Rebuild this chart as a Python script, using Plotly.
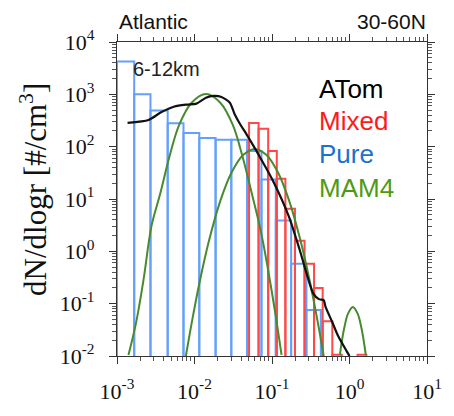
import plotly.graph_objects as go

# ---------------- data ----------------
# Pure (blue) size bins: edges in radius [um], values dN/dlogr [#/cm3]
pure_edges = [0.001, 0.001667, 0.002704, 0.004508, 0.007211, 0.01153, 0.01871,
              0.02985, 0.04775, 0.07311, 0.1119, 0.1766, 0.278, 0.4266]
pure_vals = [4250, 1000, 490, 280, 182, 146, 136, 136, 83, 23.5, 3.9, 0.58, 0.076]

# Mixed (red) size bins
mixed_left = [0.0506, 0.0671, 0.0893, 0.1153, 0.1489, 0.1977, 0.263, 0.349, 0.4508, 0.600, 1.27]
mixed_right = [0.0671, 0.0893, 0.1153, 0.1489, 0.1977, 0.263, 0.349, 0.4508, 0.600, 0.795, 1.65]
mixed_vals = [284, 220, 83, 24.3, 6.5, 1.6, 0.58, 0.20, 0.046, 0.0106, 0.0106]

# ATom measured distribution (black)
atom_r = [0.001368, 0.002553, 0.00370, 0.00551, 0.00796, 0.0106, 0.01406, 0.01766,
          0.0222, 0.0286, 0.0330, 0.0380, 0.0478, 0.0671, 0.1028, 0.1667, 0.228,
          0.340, 0.403, 0.4645, 0.491, 0.600, 0.711, 0.918, 1.0]
atom_v = [284, 323, 453, 585, 637, 664, 857, 931, 893, 692, 417, 284, 164, 70.3,
          22.4, 4.47, 1.06, 0.157, 0.122, 0.117, 0.0867, 0.0441, 0.0243, 0.0124, 0.01]

# MAM4 modes (green)
mam_aitken_r = [0.001406, 0.001766, 0.002218, 0.00278, 0.00360, 0.00478, 0.00634,
                0.00918, 0.01406, 0.02153, 0.0312, 0.0414, 0.0551, 0.0711, 0.0893,
                0.1119, 0.1327]
mam_aitken_v = [0.0105, 0.044, 0.31, 3.0, 12.4, 67, 261, 692, 1014, 692, 261, 67,
                12.4, 2.6, 0.43, 0.057, 0.0105]

mam_accum_r = [0.00774, 0.00918, 0.01153, 0.01531, 0.02153, 0.0303, 0.0427, 0.0600,
               0.0843, 0.1186, 0.1667, 0.2344, 0.312, 0.392, 0.4645]
mam_accum_v = [0.010, 0.042, 0.24, 1.55, 9.2, 32.7, 70, 90.6, 70, 32.7, 9.2, 1.55,
               0.24, 0.042, 0.010]

mam_coarse_r = [0.753, 0.785, 0.855, 0.957, 1.104, 1.274, 1.426, 1.552, 1.622]
mam_coarse_v = [0.0105, 0.0166, 0.0342, 0.0646, 0.0867, 0.0646, 0.0342, 0.0166, 0.0105]

x_tick_vals = [0.001, 0.01, 0.1, 1, 10]
x_tick_text = ["10<sup>-3</sup>", "10<sup>-2</sup>", "10<sup>-1</sup>", "10<sup>0</sup>", "10<sup>1</sup>"]
y_tick_vals = [0.01, 0.1, 1, 10, 100, 1000, 10000]
y_tick_text = ["10<sup>-2</sup>", "10<sup>-1</sup>", "10<sup>0</sup>", "10<sup>1</sup>",
               "10<sup>2</sup>", "10<sup>3</sup>", "10<sup>4</sup>"]

legend_names = ["ATom", "Mixed", "Pure", "MAM4"]
legend_colors = ["#000000", "#ff1a1a", "#1a73cc", "#4f9a12"]

# ---------------- helpers ----------------
FLOOR = 1e-3  # below the visible axis so bar sides reach the bottom


def outline(lefts, rights, vals):
    xs, ys = [], []
    for l, r, v in zip(lefts, rights, vals):
        xs += [l, l, r, r, None]
        ys += [FLOOR, v, v, FLOOR, None]
    return xs, ys


fig = go.Figure()

bx, by = outline(pure_edges[:-1], pure_edges[1:], pure_vals)
fig.add_trace(go.Scatter(x=bx, y=by, mode="lines",
                         line=dict(color="rgb(100,160,250)", width=2), hoverinfo="skip"))

rx, ry = outline(mixed_left, mixed_right, mixed_vals)
fig.add_trace(go.Scatter(x=rx, y=ry, mode="lines",
                         line=dict(color="rgb(255,72,72)", width=2), hoverinfo="skip"))

green = "rgb(72,138,48)"
for r, v in [(mam_aitken_r, mam_aitken_v), (mam_accum_r, mam_accum_v), (mam_coarse_r, mam_coarse_v)]:
    fig.add_trace(go.Scatter(x=r, y=v, mode="lines",
                             line=dict(color=green, width=2, shape="spline", smoothing=1.0)))

fig.add_trace(go.Scatter(x=atom_r, y=atom_v, mode="lines",
                         line=dict(color="#111111", width=2.2, shape="spline", smoothing=0.6)))

axis_common = dict(
    type="log", showline=True, linecolor="#333333", linewidth=1.2, mirror="ticks",
    ticks="outside", ticklen=7, tickwidth=1.2, tickcolor="#333333",
    showgrid=False, zeroline=False,
    tickfont=dict(family="Liberation Serif, Times New Roman, serif", size=22, color="#111111"),
)

minor_x = [m * 10 ** e for e in range(-3, 1) for m in range(2, 10)]
minor_y = [m * 10 ** e for e in range(-2, 4) for m in range(2, 10)]

fig.update_xaxes(**axis_common, range=[-3, 1], tickmode="array",
                 tickvals=x_tick_vals, ticktext=x_tick_text, ticklabelstandoff=8,
                 minor=dict(tickmode="array", tickvals=minor_x, ticks="outside",
                            ticklen=4, tickwidth=1, tickcolor="#555555"))
fig.update_yaxes(**axis_common, range=[-2, 4], tickmode="array",
                 tickvals=y_tick_vals, ticktext=y_tick_text, ticklabelstandoff=10,
                 minor=dict(tickmode="array", tickvals=minor_y, ticks="outside",
                            ticklen=4, tickwidth=1, tickcolor="#555555"))

sans = "Liberation Sans, Arial, sans-serif"
annotations = [
    dict(text="Atlantic", x=0.0, y=1.066, xanchor="left", yanchor="middle",
         font=dict(family=sans, size=21, color="#111111")),
    dict(text="30-60N", x=1.003, y=1.066, xanchor="right", yanchor="middle",
         font=dict(family=sans, size=21, color="#111111")),
    dict(text="6-12km", x=0.046, y=0.914, xanchor="left", yanchor="middle",
         font=dict(family=sans, size=20, color="#222222")),
    dict(text="dN/dlogr [#/cm<sup>3</sup>]", x=-0.27, y=0.53, xanchor="center",
         yanchor="middle", textangle=-90,
         font=dict(family="Liberation Serif, Times New Roman, serif", size=31, color="#111111")),
]
legend_y = [0.8497, 0.7485, 0.644, 0.5337]
for name, col, yy in zip(legend_names, legend_colors, legend_y):
    annotations.append(dict(text=name, x=0.645, y=yy, xanchor="left", yanchor="middle",
                            font=dict(family=sans, size=26, color=col)))
for a in annotations:
    a.update(xref="paper", yref="paper", showarrow=False)

fig.update_layout(
    width=454, height=416,
    margin=dict(l=117, r=13, t=42, b=48),
    paper_bgcolor="white", plot_bgcolor="white",
    showlegend=False, annotations=annotations,
)

fig.write_html("out.html")
